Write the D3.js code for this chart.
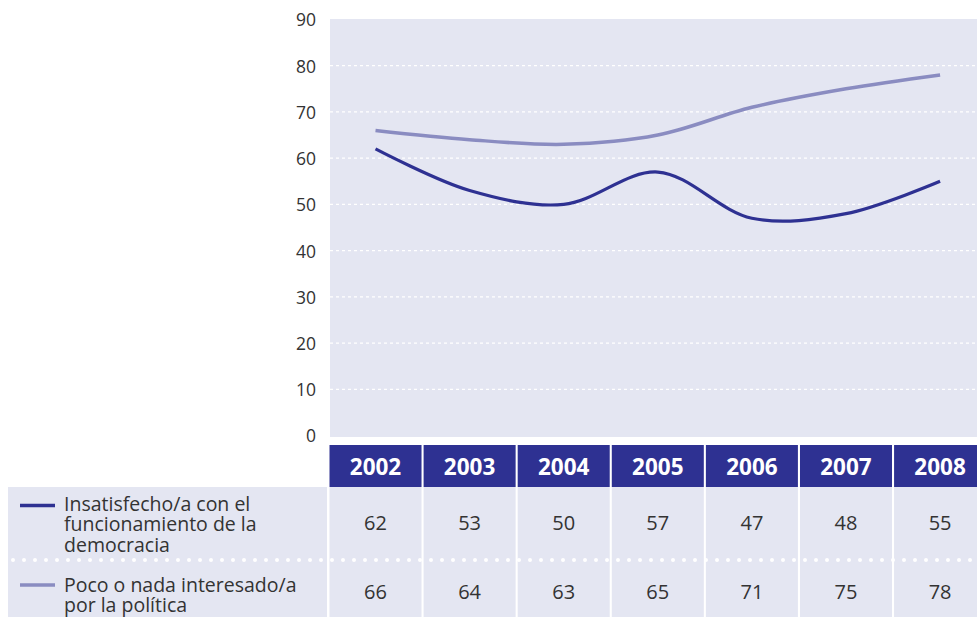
<!DOCTYPE html>
<html><head><meta charset="utf-8">
<script src="https://cdn.jsdelivr.net/npm/d3@7"></script>
<style>body{margin:0;background:#fff}svg{display:block}</style>
</head><body>
<script>
const years = ["2002","2003","2004","2005","2006","2007","2008"];
const insatisfecho = [62,53,50,57,47,48,55];
const pocoInteresado = [66,64,63,65,71,75,78];
const yTicks = [0,10,20,30,40,50,60,70,80,90];
const seriesNames = [["Insatisfecho/a con el","funcionamiento de la","democracia"],["Poco o nada interesado/a","por la política"]];

const W=977,H=617;
const font="'Open Sans', sans-serif";
const dark="#2e3192", light="#8a8cc1", bg="#e4e6f2";
const svg=d3.select("body").append("svg").attr("width",W).attr("height",H);

const x=d3.scaleBand().domain(years).range([329.5,329.5+7*93.8]).paddingInner(0.022).paddingOuter(0);
const y=d3.scaleLinear().domain([0,90]).range([435.5,19.5]);
const cx=d=>x(d)+x.bandwidth()/2;

// plot bg
svg.append("rect").attr("x",330).attr("y",19).attr("width",W-330).attr("height",418).attr("fill",bg);
// grid
svg.append("g").selectAll("line").data(yTicks.filter(t=>t>0&&t<90)).join("line")
 .attr("x1",330).attr("x2",W).attr("y1",d=>y(d)).attr("y2",d=>y(d))
 .attr("stroke","#fff").attr("stroke-width",1.3).attr("stroke-dasharray","3,3");
// axis labels
const ax=svg.append("g").attr("transform","translate(330,0)").call(d3.axisLeft(y).tickValues(yTicks).tickSize(0).tickPadding(14).tickFormat(d3.format("d")));
ax.select(".domain").remove();
ax.selectAll("text").attr("font-family",font).attr("font-size",17.5).attr("fill","#333").attr("dy","0.37em");

// lines
const line=d3.line().x((d,i)=>cx(years[i])).y(d=>y(d)).curve(d3.curveCatmullRom.alpha(0.5));
svg.append("path").datum(pocoInteresado).attr("d",line).attr("fill","none").attr("stroke",light).attr("stroke-width",3.5);
svg.append("path").datum(insatisfecho).attr("d",line).attr("fill","none").attr("stroke",dark).attr("stroke-width",3.2);

// header
svg.append("g").selectAll("rect").data(years).join("rect")
 .attr("x",d=>x(d)).attr("y",445).attr("width",x.bandwidth()).attr("height",42).attr("fill",dark);
svg.append("g").selectAll("text").data(years).join("text")
 .attr("x",cx).attr("y",475).attr("text-anchor","middle").attr("font-family",font).attr("font-weight","bold")
 .attr("font-size",22.5).attr("fill","#fff").text(d=>d);

// table rows
svg.append("rect").attr("x",8).attr("y",487).attr("width",319).attr("height",130).attr("fill",bg);
svg.append("g").selectAll("rect").data(years).join("rect")
 .attr("x",d=>x(d)).attr("y",487).attr("width",x.bandwidth()).attr("height",130).attr("fill",bg);
// dotted separator
svg.append("line").attr("x1",13).attr("x2",W).attr("y1",560).attr("y2",560)
 .attr("stroke","#fff").attr("stroke-width",4).attr("stroke-linecap","round").attr("stroke-dasharray","0,11");

// values
svg.append("g").selectAll("text").data(insatisfecho).join("text")
 .attr("x",(d,i)=>cx(years[i])).attr("y",529.5).attr("text-anchor","middle").attr("font-family",font)
 .attr("font-size",20).attr("fill","#333").text(d=>d);
svg.append("g").selectAll("text").data(pocoInteresado).join("text")
 .attr("x",(d,i)=>cx(years[i])).attr("y",598.5).attr("text-anchor","middle").attr("font-family",font)
 .attr("font-size",20).attr("fill","#333").text(d=>d);

// legend
const leg=[{c:dark,ly:505.5,ty:511,lines:seriesNames[0]},{c:light,ly:585,ty:591.5,lines:seriesNames[1]}];
leg.forEach(l=>{
  svg.append("line").attr("x1",20).attr("x2",55).attr("y1",l.ly).attr("y2",l.ly).attr("stroke",l.c).attr("stroke-width",3.5);
  l.lines.forEach((s,i)=>svg.append("text").attr("x",64).attr("y",l.ty+i*20.3)
    .attr("font-family",font).attr("font-size",19.5).attr("fill","#333").text(s));
});
</script>
</body></html>
